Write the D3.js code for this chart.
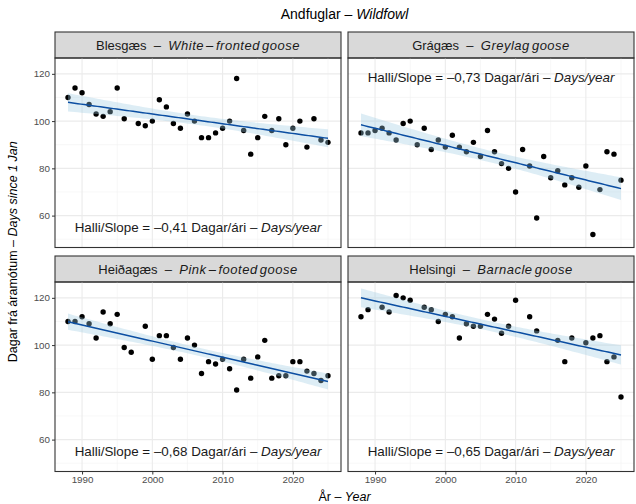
<!DOCTYPE html>
<html>
<head>
<meta charset="utf-8">
<script src="https://cdn.jsdelivr.net/npm/d3@7"></script>
<style>
  body { margin: 0; background: #fff; }
  text { font-family: "Liberation Sans", Arial, sans-serif; }
</style>
</head>
<body>
<div id="chart"></div>
<script>
"use strict";

const years = [1988, 1989, 1990, 1991, 1992, 1993, 1994, 1995, 1996, 1997,
    1998, 1999, 2000, 2001, 2002, 2003, 2004, 2005, 2006, 2007,
    2008, 2009, 2010, 2011, 2012, 2013, 2014, 2015, 2016, 2017,
    2018, 2019, 2020, 2021, 2022, 2023, 2024, 2025];

const blesgaes = [110, 114, 112, 107, 103, 102, 104, 114, 101, null,
    99, 98, 100, 109, 106, 99, 97, 103, 100, 93,
    93, 95, 97, 100, 118, 96, 86, 93, 102, 96,
    101, 90, 97, 100, 89, 101, 92, 91];

const gragaes = [95, 95, 96, 97, 95, 92, 99, 100, 90, 97,
    88, 92, 89, 94, 89, 87, 91, 85, 96, 87,
    82, 80, 70, 88, 81, 59, 85, 76, 79, 73,
    76, 72, 81, 52, 71, 87, 86, 75];

const heidagaes = [110, 110, 112, 109, 103, 114, 109, 113, 99, 97,
    null, 108, 94, 104, 104, 99, 94, 103, 100, 88,
    93, 92, 94, 90, 81, 94, 86, 95, 102, 86,
    87, 87, 93, 93, 89, 88, 85, 87];

const helsingi = [112, 115, null, 116, 114, 121, 120, 119, null, 116,
    115, 110, 113, 112, 103, 109, 108, 108, 113, 111,
    105, 108, 119, null, 112, 106, null, null, 102, 93,
    103, null, 101, 103, 104, 93, 95, 78];

const seriesValues = [blesgaes, gragaes, heidagaes, helsingi];
const speciesIs = ["Blesgæs", "Grágæs", "Heiðagæs", "Helsingi"];
const speciesEn = ["White – fronted goose", "Greylag goose", "Pink – footed goose", "Barnacle goose"];
const slopeLabels = ["–0,41", "–0,73", "–0,68", "–0,65"];
const slopeLabelAtTop = [false, true, false, false];

const xTicks = [1990, 2000, 2010, 2020];
const xMinor = [1995, 2005, 2015, 2025];
const yTicks = [60, 80, 100, 120];
const yMinor = [50, 70, 90, 110];

const msm = {
    width: 636,
    height: 504,
    panelW: 286,
    panelH: 189.5,
    stripH: 26,
    cols: [55, 348],
    rows: [58, 282]
};

const svg = d3.select("#chart").append("svg")
    .attr("width", msm.width)
    .attr("height", msm.height);

const xScale = d3.scaleLinear().domain([1986.15, 2026.85]).range([0, msm.panelW]);
const yScale = d3.scaleLinear().domain([46.5, 126.7]).range([msm.panelH, 0]);

// t quantile (two sided 95%) via Cornish-Fisher approximation
function tQuant(df) {
    const z = 1.959964;
    return z + (z ** 3 + z) / (4 * df) + (5 * z ** 5 + 16 * z ** 3 + 3 * z) / (96 * df * df);
}

// ordinary least squares fit with 95% confidence band, like geom_smooth(method = "lm")
function fitLm(pts) {
    const n = pts.length;
    const xm = d3.mean(pts, d => d.x);
    const ym = d3.mean(pts, d => d.y);
    const sxx = d3.sum(pts, d => (d.x - xm) ** 2);
    const sxy = d3.sum(pts, d => (d.x - xm) * (d.y - ym));
    const b = sxy / sxx;
    const a = ym - b * xm;
    const sse = d3.sum(pts, d => (d.y - a - b * d.x) ** 2);
    const s = Math.sqrt(sse / (n - 2));
    const t = tQuant(n - 2);
    const x0 = d3.min(pts, d => d.x);
    const x1 = d3.max(pts, d => d.x);
    return d3.range(0, 81).map(i => {
        const x = x0 + (x1 - x0) * i / 80;
        const fit = a + b * x;
        const se = s * Math.sqrt(1 / n + (x - xm) ** 2 / sxx);
        return { x: x, fit: fit, lo: fit - t * se, hi: fit + t * se };
    });
}

function styleAxis(sel) {
    sel.select(".domain").remove();
    sel.selectAll("line").attr("stroke", "#333333");
    sel.selectAll("text").attr("fill", "#4D4D4D")
        .style("font-size", "9.8px")
        .style("font-family", "'Liberation Sans', Arial, sans-serif");
}

function drawPanel(k) {
    const col = k % 2;
    const row = Math.floor(k / 2);
    const px = msm.cols[col];
    const py = msm.rows[row];
    const pts = years.map((yr, i) => ({ x: yr, y: seriesValues[k][i] }))
        .filter(d => d.y !== null);

    // strip
    const strip = svg.append("g").attr("transform", `translate(${px},${py - msm.stripH})`);
    strip.append("rect")
        .attr("width", msm.panelW)
        .attr("height", msm.stripH)
        .attr("fill", "#D9D9D9")
        .attr("stroke", "#333333")
        .attr("stroke-width", 1.1);
    const st = strip.append("text")
        .attr("x", msm.panelW / 2)
        .attr("y", msm.stripH / 2 + 4.5)
        .attr("text-anchor", "middle")
        .attr("xml:space", "preserve")
        .style("font-size", "13px")
        .attr("fill", "#1A1A1A");
    st.append("tspan").text(speciesIs[k] + "  –  ");
    st.append("tspan").text(speciesEn[k])
        .style("font-style", "italic")
        .style("letter-spacing", "0.5px")
        .style("word-spacing", "-2px");

    const g = svg.append("g").attr("transform", `translate(${px},${py})`);

    // grid
    g.append("g").selectAll("line").data(xMinor).enter().append("line")
        .attr("x1", d => xScale(d)).attr("x2", d => xScale(d))
        .attr("y1", 0).attr("y2", msm.panelH)
        .attr("stroke", "#F2F2F2").attr("stroke-width", 0.6);
    g.append("g").selectAll("line").data(yMinor).enter().append("line")
        .attr("y1", d => yScale(d)).attr("y2", d => yScale(d))
        .attr("x1", 0).attr("x2", msm.panelW)
        .attr("stroke", "#F2F2F2").attr("stroke-width", 0.6);
    g.append("g").selectAll("line").data(xTicks).enter().append("line")
        .attr("x1", d => xScale(d)).attr("x2", d => xScale(d))
        .attr("y1", 0).attr("y2", msm.panelH)
        .attr("stroke", "#EBEBEB").attr("stroke-width", 1.1);
    g.append("g").selectAll("line").data(yTicks).enter().append("line")
        .attr("y1", d => yScale(d)).attr("y2", d => yScale(d))
        .attr("x1", 0).attr("x2", msm.panelW)
        .attr("stroke", "#EBEBEB").attr("stroke-width", 1.1);

    // points
    g.append("g").selectAll("circle").data(pts).enter().append("circle")
        .attr("cx", d => xScale(d.x))
        .attr("cy", d => yScale(d.y))
        .attr("r", 2.7)
        .attr("fill", "#000");

    // fit + band
    const band = fitLm(pts);
    g.append("path")
        .datum(band)
        .attr("d", d3.area().x(d => xScale(d.x)).y0(d => yScale(d.lo)).y1(d => yScale(d.hi)))
        .attr("fill", "#9ECAE1")
        .attr("opacity", 0.35);
    g.append("path")
        .datum(band)
        .attr("d", d3.line().x(d => xScale(d.x)).y(d => yScale(d.fit)))
        .attr("fill", "none")
        .attr("stroke", "#0B4EA2")
        .attr("stroke-width", 1.5);

    // slope label
    const lab = g.append("text")
        .attr("x", xScale(2006.5))
        .attr("y", yScale(slopeLabelAtTop[k] ? 118.4 : 55) + 4.8)
        .attr("text-anchor", "middle")
        .style("font-size", "13.4px")
        .attr("fill", "#1A1A1A");
    lab.append("tspan").text("Halli/Slope = " + slopeLabels[k] + " Dagar/ári – ");
    lab.append("tspan").text("Days/year").style("font-style", "italic");

    // border
    g.append("rect")
        .attr("width", msm.panelW)
        .attr("height", msm.panelH)
        .attr("fill", "none")
        .attr("stroke", "#333333")
        .attr("stroke-width", 1.1);

    // axes
    if (col === 0) {
        g.append("g")
            .call(d3.axisLeft(yScale).tickValues(yTicks).tickSize(3).tickPadding(2))
            .call(styleAxis);
    }
    if (row === 1) {
        g.append("g")
            .attr("transform", `translate(0,${msm.panelH})`)
            .call(d3.axisBottom(xScale).tickValues(xTicks).tickFormat(d3.format("d")).tickSize(3).tickPadding(2))
            .call(styleAxis);
    }
}

d3.range(4).forEach(drawPanel);

// titles
const midX = (msm.cols[0] + msm.cols[1] + msm.panelW) / 2;
const title = svg.append("text")
    .attr("x", midX)
    .attr("y", 19)
    .attr("text-anchor", "middle")
    .style("font-size", "14px")
    .attr("fill", "#000");
title.append("tspan").text("Andfuglar – ");
title.append("tspan").text("Wildfowl").style("font-style", "italic");

const xTitle = svg.append("text")
    .attr("x", midX)
    .attr("y", 501)
    .attr("text-anchor", "middle")
    .style("font-size", "12.5px")
    .attr("fill", "#000");
xTitle.append("tspan").text("År – ");
xTitle.append("tspan").text("Year").style("font-style", "italic");

const midY = (msm.rows[0] - msm.stripH + msm.rows[1] + msm.panelH) / 2;
const yTitle = svg.append("text")
    .attr("transform", `translate(17,${midY}) rotate(-90)`)
    .attr("text-anchor", "middle")
    .style("font-size", "12.5px")
    .attr("fill", "#000");
yTitle.append("tspan").text("Dagar frá áramótum – ");
yTitle.append("tspan").text("Days since 1 Jan").style("font-style", "italic");
</script>
</body>
</html>
